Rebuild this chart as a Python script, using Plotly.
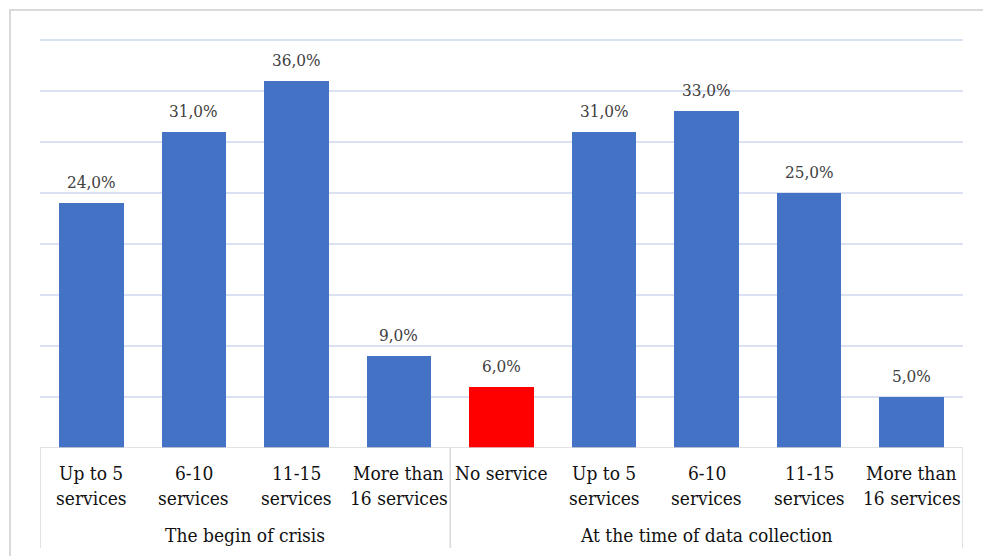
import plotly.graph_objects as go

# Number of services offered, two survey periods
groups = ["The begin of crisis", "At the time of data collection"]
group_sizes = [4, 5]
categories = [
    ["Up to 5", "services"],
    ["6-10", "services"],
    ["11-15", "services"],
    ["More than", "16 services"],
    ["No service"],
    ["Up to 5", "services"],
    ["6-10", "services"],
    ["11-15", "services"],
    ["More than", "16 services"],
]
values = [24.0, 31.0, 36.0, 9.0, 6.0, 31.0, 33.0, 25.0, 5.0]
bar_colors = ["#4472C4", "#4472C4", "#4472C4", "#4472C4", "#FF0000",
              "#4472C4", "#4472C4", "#4472C4", "#4472C4"]

W, H = 983, 556
M_L, M_R, M_T, M_B = 40, 20, 39, 108
plot_h = H - M_T - M_B

def paper_y(px):
    """Convert a pixel row (from the top of the page) to paper y."""
    return (H - M_B - px) / plot_h

SERIF = "DejaVu Serif Condensed, DejaVu Serif"
x = list(range(len(values)))

fig = go.Figure(
    go.Bar(
        x=x,
        y=values,
        width=0.63,
        marker=dict(color=bar_colors, line=dict(width=0)),
        hoverinfo="skip",
    )
)

annotations = []
# value labels above the bars
for xi, v in zip(x, values):
    annotations.append(dict(
        x=xi, y=v, xref="x", yref="y",
        text=f"{v:.1f}%".replace(".", ","),
        showarrow=False, yanchor="bottom", yshift=9,
        font=dict(size=17, color="#404040"),
    ))

# category labels (one annotation per text line)
line_rows = [473, 498]
for xi, lines in zip(x, categories):
    for row, txt in zip(line_rows, lines):
        annotations.append(dict(
            x=xi, y=paper_y(row), xref="x", yref="paper",
            text=txt, showarrow=False, yanchor="middle",
            font=dict(size=19, color="#111111"),
        ))

# group labels and divider positions
shapes = []
start = 0
dividers = [-0.5]
for name, n in zip(groups, group_sizes):
    centre = start + (n - 1) / 2
    annotations.append(dict(
        x=centre, y=paper_y(535), xref="x", yref="paper",
        text=name, showarrow=False, yanchor="middle",
        font=dict(size=19, color="#111111"),
    ))
    start += n
    dividers.append(start - 0.5)

for d in dividers:
    shapes.append(dict(
        type="line", xref="x", yref="paper",
        x0=d, x1=d, y0=0, y1=paper_y(548),
        line=dict(color="#D9D9D9", width=1.5),
    ))

# axis baseline
shapes.append(dict(
    type="line", xref="x", yref="y",
    x0=-0.5, x1=len(values) - 0.5, y0=0, y1=0,
    line=dict(color="#D9D9D9", width=1.5),
))

# outer chart frame
shapes.append(dict(
    type="rect", xref="paper", yref="paper",
    x0=(10 - M_L) / (W - M_L - M_R), x1=(W + 20 - M_L) / (W - M_L - M_R),
    y0=paper_y(H + 20), y1=paper_y(10),
    line=dict(color="#D9D9D9", width=2), fillcolor="rgba(0,0,0,0)",
    layer="below",
))

fig.update_layout(
    width=W, height=H,
    margin=dict(l=M_L, r=M_R, t=M_T, b=M_B),
    font=dict(family=SERIF),
    paper_bgcolor="white", plot_bgcolor="white",
    showlegend=False,
    bargap=0,
    xaxis=dict(range=[-0.5, len(values) - 0.5], showticklabels=False,
               showgrid=False, zeroline=False, showline=False, ticks=""),
    yaxis=dict(range=[0, 40.1], dtick=5, showticklabels=False,
               showgrid=True, gridcolor="#D9E1F2", gridwidth=1.5,
               zeroline=False, showline=False, ticks=""),
    annotations=annotations,
    shapes=shapes,
)

fig.write_html("out.html")
